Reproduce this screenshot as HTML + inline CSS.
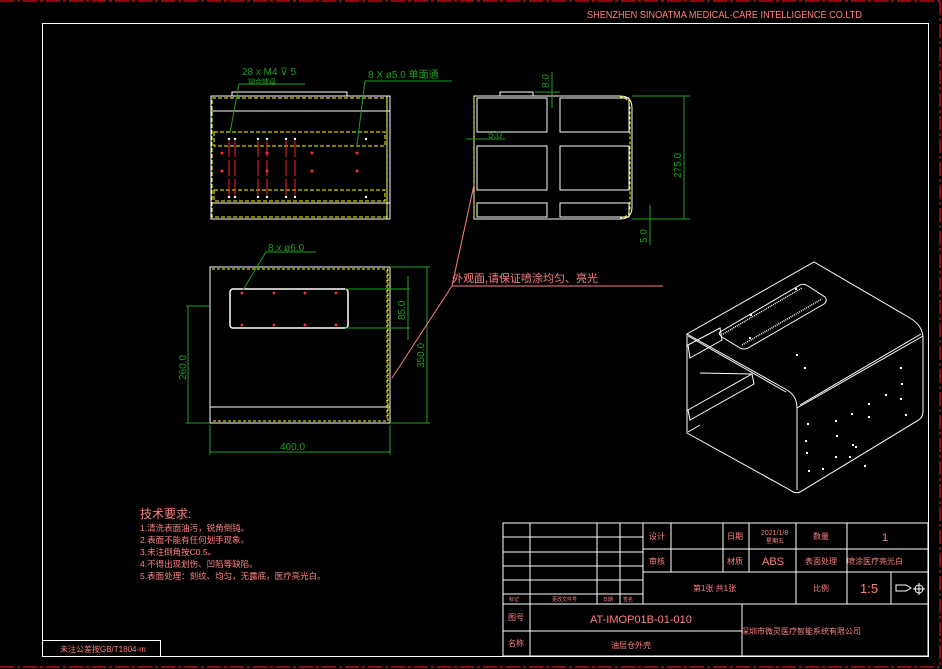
<!DOCTYPE html>
<html><head><meta charset="utf-8"><style>
html,body{margin:0;padding:0;background:#000;}
svg{display:block;}
text{font-family:"Liberation Sans","Noto Sans CJK SC",sans-serif;}
</style></head><body>
<svg width="942" height="669" viewBox="0 0 942 669" xmlns="http://www.w3.org/2000/svg">
<rect width="942" height="669" fill="#000"/>
<g stroke="#e01010" stroke-width="1.2" fill="none" stroke-dasharray="14,3,3,3">
<line x1="0" y1="1" x2="940" y2="1"/><line x1="940" y1="1" x2="940" y2="667"/><line x1="0" y1="667" x2="940" y2="667"/>
</g>
<text x="587" y="18" font-size="10" fill="#ff8080" textLength="275" lengthAdjust="spacingAndGlyphs">SHENZHEN SINOATMA MEDICAL-CARE INTELLIGENCE CO.LTD</text>
<rect x="42.5" y="23.5" width="886" height="633" fill="none" stroke="#fff" stroke-width="1"/>
<rect x="42.5" y="640.5" width="118" height="16" fill="none" stroke="#fff"/>
<text x="60" y="652" font-size="8" fill="#ff8080">未注公差按GB/T1804-m</text>

<!-- TOP VIEW -->
<g fill="none" stroke="#fff" stroke-width="1">
<rect x="211" y="96" width="179" height="123"/>
<rect x="232" y="92" width="115" height="4"/>
<line x1="211" y1="111" x2="390" y2="111"/><line x1="211" y1="203" x2="390" y2="203"/>
<line x1="387" y1="96" x2="387" y2="219"/>
</g>
<g fill="none" stroke="#ffff00" stroke-width="1" stroke-dasharray="4,2">
<rect x="212" y="98" width="175" height="119"/>
<rect x="214" y="132" width="171" height="14"/>
<rect x="214" y="190" width="171" height="11"/>
</g>
<g stroke="#ff2020" stroke-width="1" stroke-dasharray="16,3">
<line x1="229" y1="141" x2="229" y2="197"/><line x1="235" y1="141" x2="235" y2="197"/>
<line x1="258" y1="141" x2="258" y2="197"/><line x1="267" y1="141" x2="267" y2="197"/>
<line x1="286" y1="141" x2="286" y2="197"/><line x1="295" y1="141" x2="295" y2="197"/>
</g>
<g fill="#ff3030">
<circle cx="222" cy="153" r="1.5"/><circle cx="222" cy="171" r="1.5"/><circle cx="267" cy="153" r="1.5"/><circle cx="267" cy="171" r="1.5"/>
<circle cx="312" cy="153" r="1.5"/><circle cx="312" cy="171" r="1.5"/><circle cx="357" cy="153" r="1.5"/><circle cx="357" cy="171" r="1.5"/>
</g>
<g fill="#fff">
<circle cx="229" cy="139" r="1.2"/><circle cx="235" cy="139" r="1.2"/><circle cx="258" cy="139" r="1.2"/><circle cx="267" cy="139" r="1.2"/><circle cx="286" cy="139" r="1.2"/><circle cx="295" cy="139" r="1.2"/><circle cx="366" cy="139" r="1.2"/>
<circle cx="229" cy="197" r="1.2"/><circle cx="235" cy="197" r="1.2"/><circle cx="258" cy="197" r="1.2"/><circle cx="267" cy="197" r="1.2"/><circle cx="286" cy="197" r="1.2"/><circle cx="295" cy="197" r="1.2"/><circle cx="366" cy="197" r="1.2"/>
</g>
<g stroke="#1f9f1f" fill="none" stroke-width="1">
<polyline points="305,84 239,84 230,133"/>
<polyline points="452,81 365,81 357,145"/>
</g>
<text x="242" y="75" font-size="10" fill="#1f9f1f">28 x M4 ⊽ 5</text>
<text x="248" y="84" font-size="7" fill="#1f9f1f">铆合螺母</text>
<text x="368" y="78" font-size="10" fill="#1f9f1f">8 X ø5.0 单面通</text>

<!-- SIDE VIEW -->
<g fill="none" stroke="#fff" stroke-width="1">
<path d="M474 96 H620 Q632 96 632 108 V207 Q632 219 620 219 H474 Z"/>
<rect x="477" y="98" width="70" height="34"/><rect x="560" y="98" width="69" height="34"/>
<rect x="477" y="146" width="70" height="44"/><rect x="560" y="146" width="69" height="44"/>
<rect x="477" y="203" width="70" height="14"/><rect x="560" y="203" width="69" height="14"/>
<rect x="500" y="92" width="33" height="4"/>
</g>
<path d="M474 98 V219 M620 97 Q630 98 630 108 V207 Q630 217 620 218" stroke="#ffff00" fill="none" stroke-dasharray="3,2"/>
<g stroke="#1f9f1f" fill="none">
<line x1="552" y1="72" x2="552" y2="108"/><line x1="535" y1="92" x2="560" y2="92"/>
<line x1="466" y1="139" x2="505" y2="139"/>
<line x1="632" y1="96" x2="690" y2="96"/><line x1="632" y1="219" x2="690" y2="219"/>
<line x1="684" y1="96" x2="684" y2="219"/>
<line x1="650" y1="205" x2="650" y2="245"/>
</g>
<text transform="translate(549,88) rotate(-90)" font-size="10" fill="#1f9f1f">8.0</text>
<text x="488" y="138" font-size="10" fill="#1f9f1f">5.0</text>
<text transform="translate(681,178) rotate(-90)" font-size="10" fill="#1f9f1f">275.0</text>
<text transform="translate(647,243) rotate(-90)" font-size="10" fill="#1f9f1f">5.0</text>

<!-- FRONT VIEW -->
<g fill="none" stroke="#fff" stroke-width="1">
<rect x="210" y="267" width="180" height="156"/>
<line x1="210" y1="407" x2="390" y2="407"/>
<rect x="230" y="289" width="118" height="39" rx="3" stroke-width="1.5"/>
</g>
<path d="M212 269 H388 V421 H212 M387 270 V420" fill="none" stroke="#ffff00" stroke-dasharray="3,2"/>
<g fill="#ff3030">
<circle cx="242" cy="293" r="1.4"/><circle cx="274" cy="293" r="1.4"/><circle cx="305" cy="293" r="1.4"/><circle cx="336" cy="293" r="1.4"/>
<circle cx="242" cy="325" r="1.4"/><circle cx="274" cy="325" r="1.4"/><circle cx="305" cy="325" r="1.4"/><circle cx="336" cy="325" r="1.4"/>
</g>
<g stroke="#1f9f1f" fill="none">
<polyline points="316,252 266,252 243,290"/>
<line x1="210" y1="425" x2="210" y2="455"/><line x1="390" y1="425" x2="390" y2="455"/><line x1="210" y1="452" x2="390" y2="452"/>
<line x1="186" y1="306" x2="210" y2="306"/><line x1="188" y1="306" x2="188" y2="423"/><line x1="186" y1="423" x2="210" y2="423"/>
<line x1="390" y1="267" x2="430" y2="267"/><line x1="427" y1="267" x2="427" y2="423"/><line x1="390" y1="423" x2="430" y2="423"/>
<line x1="345" y1="289" x2="410" y2="289"/><line x1="345" y1="328" x2="410" y2="328"/><line x1="408" y1="276" x2="408" y2="340"/>
</g>
<text x="268" y="251" font-size="10" fill="#1f9f1f">8 x ø6.0</text>
<text x="280" y="450" font-size="10" fill="#1f9f1f">400.0</text>
<text transform="translate(186,380) rotate(-90)" font-size="10" fill="#1f9f1f">260.0</text>
<text transform="translate(424,368) rotate(-90)" font-size="10" fill="#1f9f1f">350.0</text>
<text transform="translate(405,320) rotate(-90)" font-size="10" fill="#1f9f1f">85.0</text>

<g stroke="#ff8080" fill="none">
<line x1="452" y1="286" x2="663" y2="286"/>
<line x1="452" y1="286" x2="474" y2="185"/>
<line x1="452" y1="286" x2="392" y2="378"/>
</g>
<text x="452" y="282" font-size="11" fill="#ff8080">外观面,请保证喷涂均匀、亮光</text>

<!-- ISO VIEW -->
<g fill="none" stroke="#fff" stroke-width="1">
<polyline points="787,390 687,334 814,262 910,318"/>
<path d="M910 318 Q923 326 923 338 V412 Q923 418 917 421 L800 492 Q795 494 790 490 L687 433 V334"/>
<path d="M787 390 Q797 396 797 408 V490"/>
<path d="M797 408 L923 336"/>
<path d="M800 405 L921 334"/>
<path d="M688 336 L786 392"/>
<path d="M720 332 L800 285 Q804 283 808 286 L825 297 Q828 301 824 304 L748 348 Q744 350 740 348 L722 337 Q718 334 720 332 Z"/>
<path d="M723 334 L802 288 M742 345 L822 299" stroke-width="1.5" stroke-dasharray="1,1"/>
<path d="M688 345 L720 328 L722 340 L690 358 Z"/>
<path d="M688 410 L752 374 L754 384 L690 420 Z"/>
<line x1="688" y1="432" x2="700" y2="425"/>
<line x1="700" y1="373" x2="752" y2="374"/>
</g>
<g fill="#fff">
<rect x="804" y="367" width="2" height="2"/><rect x="900" y="367" width="2" height="2"/><rect x="901" y="383" width="2" height="2"/><rect x="900" y="398" width="2" height="2"/><rect x="905" y="414" width="2" height="2"/>
<rect x="807" y="423" width="2" height="2"/><rect x="835" y="420" width="2" height="2"/><rect x="851" y="413" width="2" height="2"/><rect x="868" y="403" width="2" height="2"/><rect x="885" y="394" width="2" height="2"/>
<rect x="805" y="440" width="2" height="2"/><rect x="836" y="435" width="2" height="2"/><rect x="855" y="446" width="2" height="2"/><rect x="868" y="416" width="2" height="2"/>
<rect x="806" y="452" width="2" height="2"/><rect x="835" y="456" width="2" height="2"/><rect x="852" y="444" width="2" height="2"/><rect x="864" y="465" width="2" height="2"/>
<rect x="808" y="470" width="2" height="2"/><rect x="822" y="468" width="2" height="2"/><rect x="849" y="456" width="2" height="2"/>
<rect x="749" y="337" width="2" height="2"/><rect x="796" y="354" width="2" height="2"/><rect x="750" y="314" width="2" height="2"/><rect x="795" y="288" width="2" height="2"/>
</g>

<g fill="#ff8080">
<text x="140" y="518" font-size="12">技术要求:</text>
<text x="140" y="531" font-size="8.5">1.清洗表面油污，锐角倒钝。</text>
<text x="140" y="543" font-size="8.5">2.表面不能有任何划手现象。</text>
<text x="140" y="555" font-size="8.5">3.未注倒角按C0.5。</text>
<text x="140" y="567" font-size="8.5">4.不得出现划伤、凹陷等缺陷。</text>
<text x="140" y="579" font-size="8.5">5.表面处理：刻纹、均匀，无露底，医疗亮光白。</text>
</g>

<g stroke="#fff" fill="none" stroke-width="1">
<rect x="503" y="523" width="425" height="133"/>
<line x1="503" y1="537" x2="643" y2="537"/><line x1="503" y1="552" x2="643" y2="552"/><line x1="503" y1="566" x2="643" y2="566"/><line x1="503" y1="580" x2="643" y2="580"/><line x1="503" y1="594" x2="643" y2="594"/>
<line x1="530" y1="523" x2="530" y2="656"/><line x1="597" y1="523" x2="597" y2="604"/><line x1="620" y1="523" x2="620" y2="604"/><line x1="643" y1="523" x2="643" y2="604"/>
<line x1="503" y1="604" x2="928" y2="604"/>
<line x1="643" y1="549" x2="928" y2="549"/><line x1="643" y1="572" x2="928" y2="572"/>
<line x1="671" y1="523" x2="671" y2="572"/><line x1="723" y1="523" x2="723" y2="572"/><line x1="749" y1="523" x2="749" y2="572"/><line x1="796" y1="523" x2="796" y2="604"/><line x1="847" y1="523" x2="847" y2="604"/><line x1="891" y1="572" x2="891" y2="604"/>
<line x1="503" y1="631" x2="742" y2="631"/><line x1="742" y1="604" x2="742" y2="656"/>
</g>
<g fill="#ff8080" font-size="8">
<text x="649" y="539">设计</text><text x="649" y="564">审核</text>
<text x="727" y="539">日期</text><text x="727" y="564">材质</text>
<text x="761" y="535" font-size="7">2021/1/8</text><text x="766" y="543" font-size="6">星期五</text>
<text x="762" y="565" font-size="11">ABS</text>
<text x="813" y="539">数量</text><text x="805" y="564">表面处理</text>
<text x="882" y="541" font-size="11">1</text>
<text x="847" y="564">喷涂医疗亮光白</text>
<text x="693" y="591">第1张 共1张</text>
<text x="813" y="591">比例</text>
<text x="860" y="593" font-size="13">1:5</text>
<text x="509" y="601" font-size="5">标记</text><text x="552" y="601" font-size="5">更改文件号</text><text x="603" y="601" font-size="5">日期</text><text x="623" y="601" font-size="5">签名</text>
<text x="508" y="620">图号</text><text x="508" y="646">名称</text>
<text x="590" y="623" font-size="11">AT-IMOP01B-01-010</text>
<text x="611" y="648">油层仓外壳</text>
<text x="741" y="634">深圳市微灵医疗智能系统有限公司</text>
</g>
<g stroke="#fff" fill="none">
<path d="M896 585 H906 L911 588 L906 591 H896 Z"/>
<circle cx="919" cy="589" r="4"/><line x1="913" y1="589" x2="925" y2="589"/><line x1="919" y1="583" x2="919" y2="595"/>
</g>
</svg>
</body></html>
